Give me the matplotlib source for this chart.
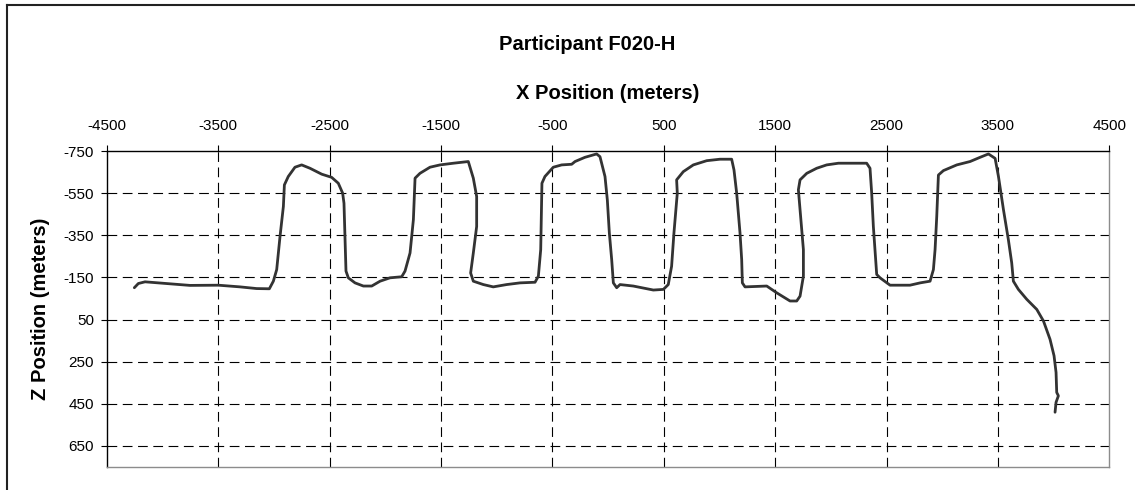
import matplotlib

matplotlib.use("Agg")
import matplotlib.pyplot as plt
from matplotlib.lines import Line2D

plt.rcParams["font.family"] = ["Liberation Sans", "DejaVu Sans"]
plt.rcParams["lines.scale_dashes"] = False
plt.rcParams["axes.unicode_minus"] = False

TITLE = "Participant F020-H"
X_LABEL = "X Position (meters)"
Z_LABEL = "Z Position (meters)"

x_ticks = [-4500, -3500, -2500, -1500, -500, 500, 1500, 2500, 3500, 4500]
z_ticks = [-750, -550, -350, -150, 50, 250, 450, 650]

# traced path, one row per stretch of the route
x_pos = [
    -4252, -4216, -4156, -3962, -3752, -3498, -3303, -3154, -3040,
    -3004, -2974, -2944, -2914, -2905, -2870, -2810, -2750, -2675, -2570, -2481, -2421,
    -2382, -2370, -2361, -2352, -2331, -2271, -2196, -2121, -2046, -1957, -1852, -1822,
    -1777, -1747, -1732, -1688, -1598, -1508, -1388, -1254,
    -1209, -1179, -1179, -1209, -1233, -1209, -1119, -1030, -910, -790, -655,
    -625, -604, -593, -566, -491, -416, -326, -296, -207, -102,
    -72, -27, -6, 12, 33, 48, 78, 108, 227, 347, 407, 497,
    541, 571, 592, 622, 616, 676, 766, 886, 1005, 1110,
    1131, 1155, 1185, 1200, 1206, 1230, 1425, 1514, 1634, 1694,
    1724, 1754, 1754, 1724, 1709, 1724, 1784, 1873, 1963, 2068, 2322,
    2352, 2367, 2382, 2412, 2442, 2532, 2711, 2802, 2891,
    2921, 2936, 2951, 2966, 3011, 3131, 3250, 3340, 3415,
    3475, 3505, 3550, 3594, 3624, 3639, 3684, 3759, 3849, 3909, 3968, 4004, 4022, 4028, 4043, 4022, 4013,
]
z_pos = [
    -101, -121, -129, -121, -112, -113, -105, -97, -96,
    -132, -187, -345, -487, -589, -629, -673, -684, -668, -640, -625, -597,
    -550, -502, -345, -180, -148, -124, -109, -109, -132, -148, -153, -180,
    -266, -424, -621, -644, -673, -684, -692, -700,
    -621, -534, -392, -266, -171, -132, -116, -105, -116, -124, -127,
    -156, -282, -597, -629, -673, -684, -687, -700, -720, -736,
    -723, -629, -518, -361, -235, -124, -101, -116, -109, -96, -90, -93,
    -116, -203, -361, -550, -613, -652, -684, -704, -711, -711,
    -660, -550, -361, -235, -124, -105, -109, -77, -38, -38,
    -61, -156, -282, -471, -566, -613, -644, -668, -684, -692, -692,
    -668, -550, -392, -164, -148, -113, -113, -124, -132,
    -187, -282, -439, -636, -657, -684, -700, -720, -736,
    -715, -629, -471, -329, -219, -132, -93, -46, 2, 57, 144, 222, 301, 396, 412, 443, 490,
]

W, H = 1135, 490
fig = plt.figure(figsize=(W / 100, H / 100), dpi=100)
ax = fig.add_axes([106.7 / W, 1 - 467 / H, (1109.3 - 106.7) / W, (467 - 151) / H])

ax.plot(x_pos, z_pos, color="#333333", lw=2.0, solid_joinstyle="round", solid_capstyle="round", zorder=3)

ax.set_xlim(-4500, 4500)
ax.set_ylim(750, -750)
ax.set_xticks(x_ticks)
ax.set_yticks(z_ticks)
ax.xaxis.tick_top()
ax.tick_params(axis="x", direction="out", length=4, width=0.8, labelsize=11, pad=9)
ax.tick_params(axis="y", direction="out", length=4, width=0.8, labelsize=11, pad=5)

# dashed grid, skipping lines that sit on the frame
for x in x_ticks[1:-1]:
    ax.axvline(x, color="black", lw=0.8, ls=(0, (7, 4)), zorder=1)
for z in z_ticks[1:]:
    ax.axhline(z, color="black", lw=0.8, ls=(0, (7, 4)), zorder=1)

for side in ("top", "left"):
    ax.spines[side].set_color("black")
    ax.spines[side].set_linewidth(1.0)
for side in ("bottom", "right"):
    ax.spines[side].set_color("#8c8c8c")
    ax.spines[side].set_linewidth(1.0)

fig.text(587 / W, 1 - 45 / H, TITLE, ha="center", va="center", fontsize=14.5, fontweight="bold")
fig.text(608 / W, 1 - 93 / H, X_LABEL, ha="center", va="center", fontsize=14.5, fontweight="bold")
fig.text(40 / W, 1 - 309 / H, Z_LABEL, ha="center", va="center", rotation=90, fontsize=14.5, fontweight="bold")

# chart area frame (only left and top edges show)
fig.add_artist(Line2D([7.3 / W, 7.3 / W], [0, 1 - 5 / H], color="#222222", lw=1.5))
fig.add_artist(Line2D([7.3 / W, 1], [1 - 5 / H, 1 - 5 / H], color="#222222", lw=1.5))

fig.savefig("out.png", dpi=100)
plt.close(fig)
